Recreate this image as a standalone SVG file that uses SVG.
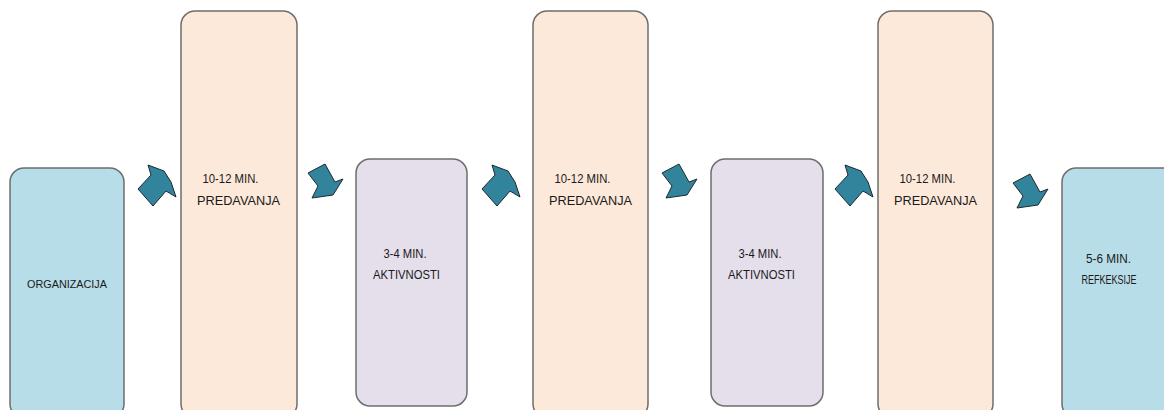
<svg xmlns="http://www.w3.org/2000/svg" width="1164" height="410" viewBox="0 0 1164 410">
<defs>
<style>
.box{stroke:#6e6e6e;stroke-width:1.5}
.blue{fill:#b7dde8}
.peach{fill:#fde9d9}
.lav{fill:#e5dfec}
.t{font-family:"Liberation Sans",Arial,sans-serif;fill:#1a1a1a;text-anchor:middle;font-size:13px}
.s{font-size:11px}
.arr{fill:#31849b;stroke:#1e2a30;stroke-width:1;stroke-linejoin:miter}
</style>
<polygon id="up" points="0,24 13,10 10,0 26,6 33,17 38,32 28,26 15,41"/>
<polygon id="down" points="1,10 18,1 28,19 36,16 26,32 5,35 11,23"/>
</defs>
<rect width="1164" height="410" fill="#ffffff"/>
<g id="n-organizacija">
<rect class="box blue" x="10" y="168" width="114" height="250" rx="14"/>
<text class="t s" x="67" y="288" textLength="80" lengthAdjust="spacingAndGlyphs">ORGANIZACIJA</text>
</g>
<g id="n-predavanja1">
<rect class="box peach" x="181" y="11" width="116" height="407" rx="14"/>
<text class="t" x="230.5" y="183" textLength="56" lengthAdjust="spacingAndGlyphs">10-12 MIN.</text>
<text class="t" x="238.5" y="205" textLength="83" lengthAdjust="spacingAndGlyphs">PREDAVANJA</text>
</g>
<g id="n-aktivnosti1">
<rect class="box lav" x="356" y="159" width="111" height="247" rx="14"/>
<text class="t" x="405" y="258" textLength="43" lengthAdjust="spacingAndGlyphs">3-4 MIN.</text>
<text class="t" x="406.5" y="279" textLength="67" lengthAdjust="spacingAndGlyphs">AKTIVNOSTI</text>
</g>
<g id="n-predavanja2">
<rect class="box peach" x="533" y="11" width="115" height="407" rx="14"/>
<text class="t" x="582.5" y="183" textLength="56" lengthAdjust="spacingAndGlyphs">10-12 MIN.</text>
<text class="t" x="590.5" y="205" textLength="83" lengthAdjust="spacingAndGlyphs">PREDAVANJA</text>
</g>
<g id="n-aktivnosti2">
<rect class="box lav" x="711" y="159" width="112" height="247" rx="14"/>
<text class="t" x="760" y="258" textLength="43" lengthAdjust="spacingAndGlyphs">3-4 MIN.</text>
<text class="t" x="761.5" y="279" textLength="67" lengthAdjust="spacingAndGlyphs">AKTIVNOSTI</text>
</g>
<g id="n-predavanja3">
<rect class="box peach" x="878" y="11" width="115" height="407" rx="14"/>
<text class="t" x="927.5" y="183" textLength="56" lengthAdjust="spacingAndGlyphs">10-12 MIN.</text>
<text class="t" x="935.5" y="205" textLength="83" lengthAdjust="spacingAndGlyphs">PREDAVANJA</text>
</g>
<g id="n-refleksije">
<rect class="box blue" x="1062" y="168" width="120" height="250" rx="14"/>
<text class="t" x="1108.5" y="263" textLength="45" lengthAdjust="spacingAndGlyphs">5-6 MIN.</text>
<text class="t" x="1109" y="284" textLength="55" lengthAdjust="spacingAndGlyphs">REFKEKSIJE</text>
</g>
<g id="connectors">
<use href="#up" class="arr" x="138" y="165"/>
<use href="#down" class="arr" x="307" y="163"/>
<use href="#up" class="arr" x="482" y="165"/>
<use href="#down" class="arr" x="661" y="163"/>
<use href="#up" class="arr" x="835" y="165"/>
<use href="#down" class="arr" x="1012" y="173"/>
</g>
</svg>
